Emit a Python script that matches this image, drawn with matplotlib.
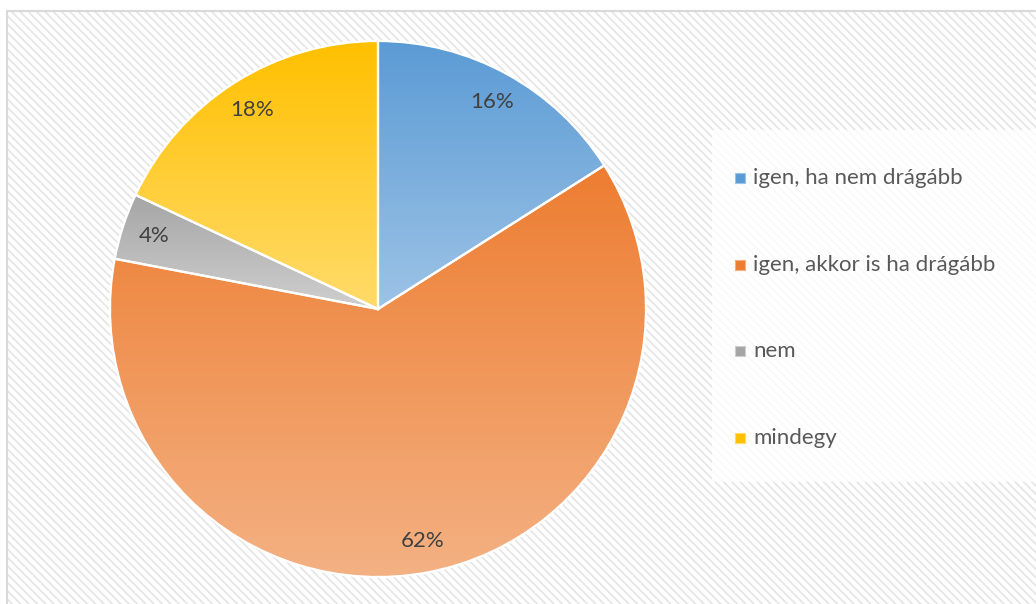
import matplotlib
matplotlib.use("Agg")
import matplotlib.pyplot as plt
import numpy as np
from matplotlib.colors import to_rgb
from matplotlib.patches import Rectangle

# Adatok
categories = ["igen, ha nem drágább", "igen, akkor is ha drágább", "nem", "mindegy"]
shares = [16, 62, 4, 18]

# szeletek szinatmenete: felul sotetebb, alul vilagosabb
top_colors = ["#5B9BD5", "#ED7D31", "#A5A5A5", "#FFC000"]
bottom_colors = ["#9DC3E6", "#F4B183", "#CFCFCF", "#FFDB6B"]

plt.rcParams['font.family'] = ['Lato', 'DejaVu Sans']
plt.rcParams['hatch.linewidth'] = 1.3

W, H = 1036, 604
fig = plt.figure(figsize=(W / 100, H / 100), dpi=100)
ax = fig.add_axes([0, 0, 1, 1])

# csikos hatter keret
bg = Rectangle((7, -10), W + 10, H - 11 + 10, facecolor="white",
               edgecolor="#E6E6E6", hatch="\\\\\\\\", linewidth=0, zorder=0)
ax.add_patch(bg)
ax.add_patch(Rectangle((7, -10), W + 10, H - 11 + 10, fill=False,
                       edgecolor="#D9D9D9", linewidth=1.5, zorder=1))

# jelmagyarazat hattere
ax.add_patch(Rectangle((712, H - 482), 340, 352, facecolor="white",
                       alpha=0.8, edgecolor="none", zorder=1))

wedges, texts, autotexts = ax.pie(
    shares, startangle=90, counterclock=False, radius=268,
    center=(378, H - 309), autopct="%d%%", pctdistance=0.88,
    wedgeprops=dict(facecolor="none", edgecolor="white", linewidth=1.6),
    textprops=dict(color="#404040", fontsize=16), frame=True)

for w, c0, c1 in zip(wedges, top_colors, bottom_colors):
    w.set_zorder(3)
    ext = w.get_path().get_extents()
    t = np.linspace(0, 1, 256)[:, None]
    grad = (1 - t) * np.array(to_rgb(c0)) + t * np.array(to_rgb(c1))
    im = ax.imshow(grad[:, None, :], extent=(ext.x0, ext.x1, ext.y0, ext.y1),
                   origin="upper", aspect="auto", interpolation="bilinear",
                   zorder=2)
    im.set_clip_path(w)

for t in autotexts:
    t.set_zorder(4)

# jelmagyarazat
leg_y = [H - 178, H - 265, H - 351, H - 438]
for y, lab, c0, c1 in zip(leg_y, categories, top_colors, bottom_colors):
    ax.scatter([740], [y], marker="s", s=42, color=c0, edgecolors=c1,
               linewidths=0.8, zorder=4)
    ax.text(753, y, lab, va="center", ha="left", fontsize=16,
            color="#595959", zorder=4)

ax.set_xlim(0, W)
ax.set_ylim(0, H)
ax.set_aspect("auto")
ax.axis("off")

fig.savefig("out.png", dpi=100, facecolor="white")
